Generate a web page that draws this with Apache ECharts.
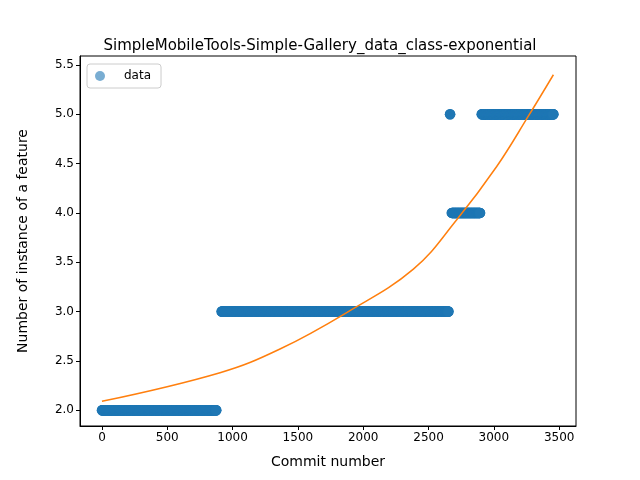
<!DOCTYPE html>
<html><head><meta charset="utf-8">
<script src="https://cdn.jsdelivr.net/npm/echarts@6/dist/echarts.min.js"></script>
<style>body{margin:0}#c{width:640px;height:480px}</style></head>
<body><div id="c"></div>
<script>
// step segments of the data: [start commit, end commit, value]
const segStart = [0, 916, 2665, 2678, 2907];
const segEnd   = [875, 2652, 2665, 2894, 3456];
const segValue = [2, 3, 5, 4, 5];
// exponential fit curve
const fitX = [0, 904, 1363, 1874, 2384, 2716, 3022, 3264, 3456];
const fitY = [2.09, 2.38, 2.62, 2.99, 3.43, 3.93, 4.47, 4.98, 5.40];
const xTicks = [0, 500, 1000, 1500, 2000, 2500, 3000, 3500];
const yTicks = [2.0, 2.5, 3.0, 3.5, 4.0, 4.5, 5.0, 5.5];

const pts = [];
for (let i = 0; i < segStart.length; i++)
  for (let x = segStart[i]; x <= segEnd[i]; x += 2) pts.push([x, segValue[i]]);
for (let i = 0; i < segStart.length; i++) pts.push([segEnd[i], segValue[i]]);

const F = 'DejaVu Sans';
const chart = echarts.init(document.getElementById('c'));
chart.setOption({
  animation: false,
  title: {text: 'SimpleMobileTools-Simple-Gallery_data_class-exponential', left: 'center', top: 34,
    textStyle: {fontFamily: F, fontSize: 15, fontWeight: 'normal', color: '#000'}},
  grid: {left: 80, right: 64, top: 56, bottom: 54, show: true, borderColor: '#000', borderWidth: 1},
  legend: {left: 87, top: 64, data: [{name: 'data', icon: 'circle', itemStyle: {color: '#1f77b4', opacity: 0.6}}],
    itemWidth: 10, itemHeight: 10,
    borderColor: '#ccc', borderWidth: 1, borderRadius: 3, padding: [6, 10, 6, 8], itemGap: 5,
    textStyle: {fontFamily: F, fontSize: 12, color: '#000', padding: [0, 0, 0, 14]}},
  xAxis: {type: 'value', min: -168, max: 3629, name: 'Commit number', nameLocation: 'middle', nameGap: 29,
    nameTextStyle: {fontFamily: F, fontSize: 14, color: '#000'},
    splitLine: {show: false},
    axisLine: {onZero: false, lineStyle: {color: '#000'}},
    axisTick: {show: true, customValues: xTicks, length: 4, lineStyle: {color: '#000'}},
    axisLabel: {customValues: xTicks, formatter: v => String(v), fontFamily: F, fontSize: 12, color: '#000', margin: 6}},
  yAxis: {type: 'value', min: 1.84, max: 5.59, name: 'Number of instance of a feature', nameLocation: 'middle', nameGap: 50,
    nameTextStyle: {fontFamily: F, fontSize: 14, color: '#000'},
    splitLine: {show: false},
    axisLine: {show: true, onZero: false, lineStyle: {color: '#000'}},
    axisTick: {show: true, customValues: yTicks, length: 4, lineStyle: {color: '#000'}},
    axisLabel: {customValues: yTicks, formatter: v => v.toFixed(1), fontFamily: F, fontSize: 12, color: '#000', margin: 6}},
  series: [
    {name: 'data', type: 'scatter', data: pts, symbolSize: 10.5,
      itemStyle: {color: '#1f77b4', opacity: 1}},
    {name: 'fit', type: 'line', data: fitX.map((x, i) => [x, fitY[i]]), smooth: 0.4, showSymbol: false,
      lineStyle: {color: '#ff7f0e', width: 1.5}, itemStyle: {color: '#ff7f0e'}}
  ]
});
</script></body></html>
